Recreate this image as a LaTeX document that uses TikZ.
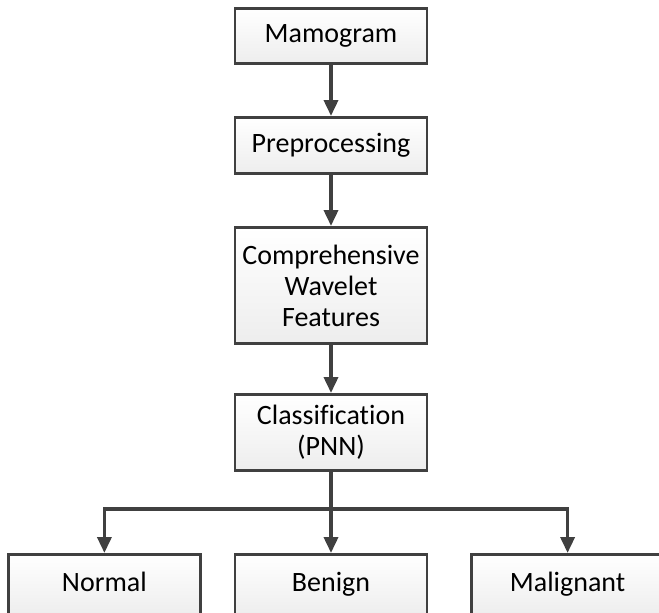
\documentclass[tikz,border=0pt]{standalone}
\usepackage{fontspec}
\setmainfont{Carlito}[Ligatures=NoCommon]
\usetikzlibrary{positioning,arrows.meta}
\definecolor{edgegray}{HTML}{404040}

\begin{document}
\begin{tikzpicture}[
    x=1pt, y=1pt,
    node distance=51pt,
    every node/.style={align=center, font=\fontsize{28}{31}\selectfont},
    box/.style={draw=edgegray, line width=2.6pt, rectangle, minimum width=192pt,
        top color=white, bottom color=gray!14, inner sep=0pt},
    single/.style={text height=19pt, text depth=6pt},
    arrow/.style={-{Triangle[width=14pt,length=16pt]}, line width=3.6pt, draw=edgegray}
]
\useasboundingbox (0,0) rectangle (659,-613);
\clip (0,0) rectangle (659,-613);

% Main column
\node[box, single, minimum height=55.4pt] (mam) at (331,-36) {Mamogram};
\node[box, single, minimum height=56.4pt, below=of mam] (pre) {Preprocessing};
\node[box, minimum height=116.4pt, below=of pre] (cwf) {Comprehensive\\Wavelet\\Features};
\node[box, minimum height=76.4pt, below=48pt of cwf] (cls) {Classification\\(PNN)};

% Output classes
\node[box, single, minimum height=62pt, below=81pt of cls] (ben) {Benign};
\node[box, single, minimum height=62pt, left=32pt of ben] (nor) {Normal};
\node[box, single, minimum height=62pt, right=42pt of ben] (mal) {Malignant};
\coordinate[below=37pt of cls.south] (split);

% Vertical arrows
\draw[arrow] (mam) -- (pre);
\draw[arrow] (pre) -- (cwf);
\draw[arrow] (cwf) -- (cls);
\draw[arrow] (cls) -- (ben);

% Branches
\draw[arrow] (split) -| (nor.north);
\draw[arrow] (split) -| (mal.north);

\end{tikzpicture}
\end{document}
